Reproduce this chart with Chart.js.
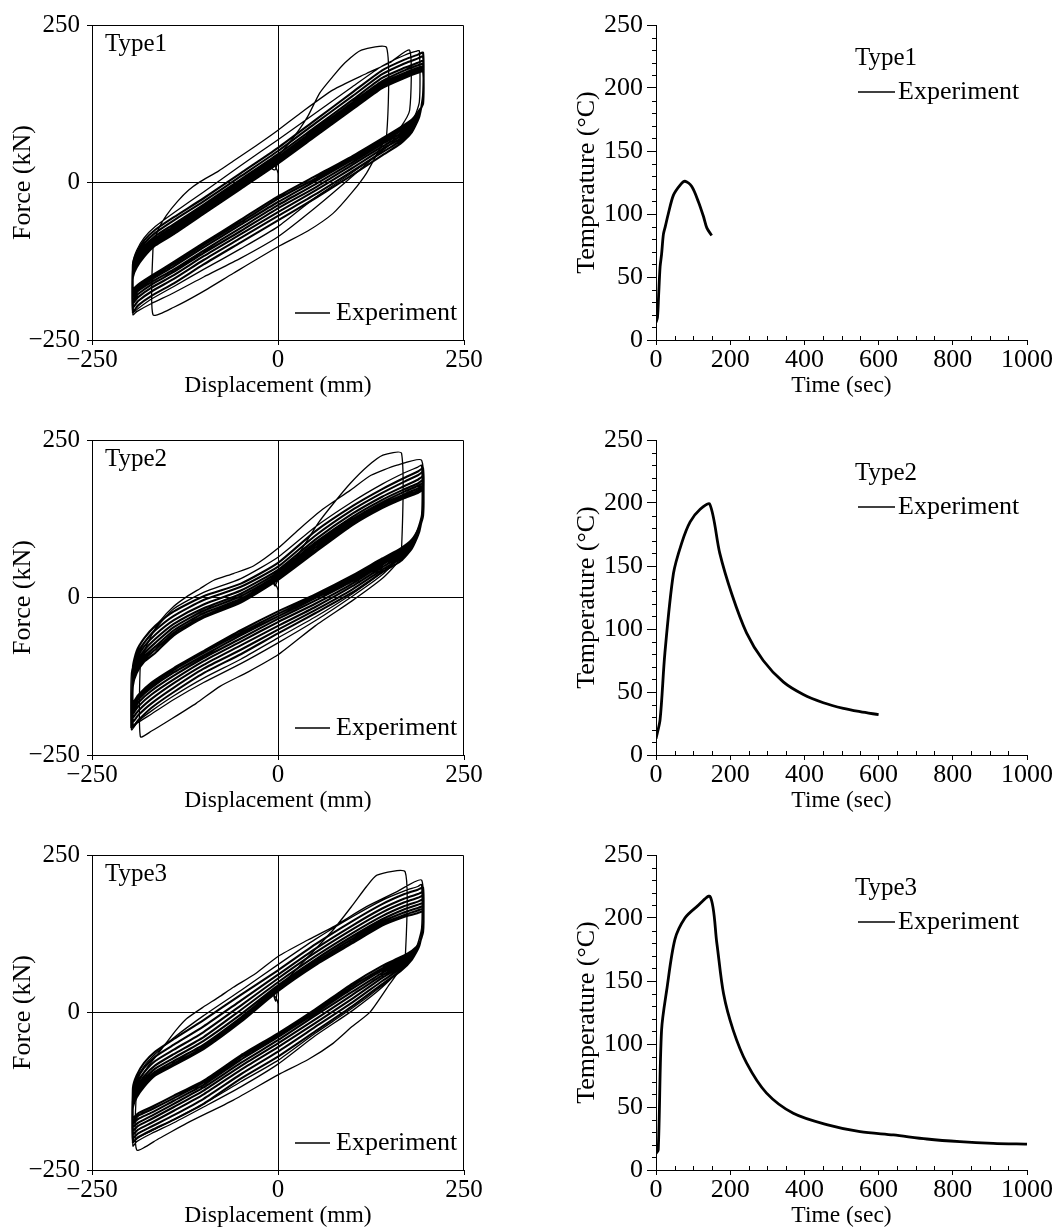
<!DOCTYPE html>
<html><head><meta charset="utf-8">
<script src="https://cdn.jsdelivr.net/npm/chart.js@4.4.1/dist/chart.umd.min.js"></script>
<style>
html,body{margin:0;padding:0;background:#fff;width:1057px;height:1230px;overflow:hidden;position:relative}
canvas{position:absolute}
</style></head><body>
<canvas id="h1" width="528" height="400" style="left:0;top:0"></canvas>
<canvas id="t1" width="529" height="400" style="left:528px;top:0"></canvas>
<canvas id="h2" width="528" height="400" style="left:0;top:415px"></canvas>
<canvas id="t2" width="529" height="400" style="left:528px;top:415px"></canvas>
<canvas id="h3" width="528" height="400" style="left:0;top:830px"></canvas>
<canvas id="t3" width="529" height="400" style="left:528px;top:830px"></canvas>
<script>
// ---------- tick values ----------
const FORCE_TICKS = [-250, 0, 250];
const DISP_TICKS = [-250, 0, 250];
const TEMP_TICKS = [0, 50, 100, 150, 200, 250];
const TIME_TICKS = [0, 200, 400, 600, 800, 1000];
const PANEL_LABELS = ['Type1', 'Type2', 'Type3'];

// ---------- temperature histories (sec, °C) ----------
const TIME1 = [0, 4, 7, 11, 15, 20, 25, 33, 47, 65, 78, 96, 114, 128, 137, 150];
const TEMP1 = [14, 18, 35, 58, 68, 84, 90, 100, 115, 123, 126, 122, 110, 98, 89, 83];
const TIME2 = [0, 11, 24, 47, 69, 92, 119, 145, 172, 204, 244, 289, 343, 397, 451, 505, 550, 600];
const TEMP2 = [13, 28, 81, 144, 168, 185, 195, 199, 160, 128, 97, 75, 58, 48, 41.5, 37, 34.4, 32];
const TIME3 = [0, 6, 15, 29, 51, 78, 110, 146, 164, 182, 208, 244, 298, 370, 460, 550, 640, 730, 819, 909, 1000];
const TEMP3 = [13, 16, 111, 143, 183, 200, 209, 217, 180, 140, 111, 85, 61, 45, 36, 30.4, 27.8, 24.6, 22.5, 21.2, 20.6];

// ---------- hysteresis: displacement stations of the stable cycles (mm) ----------
const UP_D = [-195, -190, -180, -165, -140, -100, -50, 0, 50, 100, 140, 170, 188, 195];
const LO_D = [195, 190, 180, 165, 140, 100, 50, 0, -50, -100, -140, -170, -188, -195];

// first (non-stable) cycles, traced as [displacement mm, force kN]
const TYPE1_FIRST = [[0,0],[0,15],[-3,24],[-6,28],[-8,22],[-4,20],[-1,30],[0,41],[20,70],[40,105],[56,142],[75,170],[90,190],[112,210],[146,214],[146,75],[135,50],[119,15],[100,-15],[74,-49],[40,-77],[0,-102],[-60,-144],[-105,-176],[-140,-198],[-168,-210],[-168,-104],[-165,-88],[-160,-72],[-150,-52],[-135,-30],[-120,-12],[-105,1],[-80,18],[-60,34],[-30,58],[0,83],[30,110],[74,147],[119,173],[150,190],[177,210],[177,115],[165,88],[140,52],[100,10],[50,-40],[0,-86],[-50,-120],[-100,-150],[-140,-175],[-170,-192],[-190,-205],[-195,-210],[-195,-128],[-190,-108],[-180,-88],[-165,-70],[-140,-48],[-100,-15],[-50,27],[0,68],[50,110],[100,152],[140,185],[170,202],[185,208],[190,209],[190,128],[180,95],[165,75],[140,50],[100,16],[50,-24],[0,-70],[-50,-105],[-100,-138],[-140,-165],[-170,-185],[-188,-200],[-195,-207]];
const TYPE1_UPPER = [
  [-130,-112,-92,-75,-55,-25,15,55,99,143,178,195,203,206],
  [-134,-117,-97,-80,-60,-30,10,50,94,137,172,189,197,200],
  [-138,-121,-102,-85,-66,-35,5,45,88,131,166,182,190,193],
  [-141,-124,-106,-89,-70,-39,1,41,84,127,161,178,186,188],
  [-144,-127,-109,-92,-74,-42,-2,38,81,124,158,174,182,184],
  [-146,-130,-112,-95,-77,-45,-5,35,78,121,155,171,179,181],
  [-148,-133,-116,-98,-80,-48,-8,32,75,118,152,168,176,178],
  [-150,-135,-118,-100,-82,-50,-10,30,73,116,150,166,174,176]
];
const TYPE1_LOWER = [
  [140,105,80,62,43,12,-25,-60,-95,-130,-160,-180,-195,-205],
  [138,106,83,66,48,18,-19,-53,-88,-123,-153,-173,-188,-198],
  [136,107,86,70,53,23,-13,-47,-82,-117,-147,-167,-182,-191],
  [134,109,89,74,57,28,-8,-41,-77,-112,-142,-162,-177,-186],
  [132,110,92,78,61,32,-3,-36,-72,-108,-138,-158,-172,-181],
  [130,112,95,82,64,36,2,-31,-67,-103,-133,-154,-168,-177],
  [127,113,98,85,67,39,6,-26,-63,-99,-129,-151,-165,-173],
  [125,115,100,88,70,42,10,-22,-59,-96,-126,-148,-162,-170]
];

const TYPE2_FIRST = [[0,0],[0,12],[-3,20],[-7,25],[-4,18],[0,28],[20,55],[54,118],[75,150],[97,181],[120,208],[141,226],[166,229],[166,75],[160,55],[140,30],[100,-5],[50,-45],[0,-91],[-40,-118],[-78,-141],[-110,-168],[-145,-194],[-170,-212],[-185,-221],[-185,-104],[-180,-86],[-170,-60],[-159,-38],[-140,-14],[-123,1],[-105,14],[-87,27],[-60,38],[-33,50],[0,78],[30,110],[60,140],[97,170],[125,194],[160,210],[193,218],[193,128],[185,100],[170,72],[140,36],[100,2],[50,-37],[0,-72],[-50,-105],[-100,-135],[-140,-162],[-170,-185],[-190,-200],[-197,-210],[-197,-120],[-190,-95],[-180,-72],[-165,-50],[-140,-18],[-100,8],[-50,30],[0,64],[50,112],[100,152],[140,180],[170,198],[188,207],[193,210],[193,132],[185,100],[170,70],[140,40],[100,6],[50,-31],[0,-64],[-50,-98],[-100,-128],[-140,-156],[-170,-180],[-190,-198],[-197,-207]];
const TYPE2_UPPER = [
  [-110,-85,-65,-45,-22,2,22,55,105,145,172,190,200,205],
  [-115,-91,-72,-52,-29,-4,17,49,98,139,166,184,194,199],
  [-120,-97,-78,-59,-36,-11,11,44,92,133,160,177,187,192],
  [-125,-103,-84,-66,-42,-17,6,40,87,128,155,172,181,186],
  [-129,-108,-89,-72,-47,-21,2,36,83,124,151,168,177,181],
  [-133,-112,-94,-78,-52,-25,-2,33,79,121,148,164,173,177],
  [-137,-116,-98,-83,-56,-29,-5,30,75,118,145,161,169,173],
  [-140,-120,-102,-88,-60,-32,-8,28,72,115,142,158,166,170]
];
const TYPE2_LOWER = [
  [140,105,78,58,40,8,-25,-57,-90,-120,-150,-175,-195,-205],
  [138,106,81,62,44,13,-20,-51,-83,-113,-143,-168,-187,-197],
  [136,107,84,66,48,18,-15,-45,-76,-107,-136,-161,-180,-190],
  [135,108,86,69,52,22,-10,-39,-70,-101,-130,-154,-173,-184],
  [134,109,88,72,55,26,-5,-34,-65,-96,-124,-148,-167,-179],
  [133,110,89,74,58,29,-1,-30,-60,-92,-119,-143,-162,-174],
  [131,111,91,76,60,32,2,-26,-56,-88,-115,-139,-158,-171],
  [130,112,92,78,62,35,5,-22,-52,-85,-112,-135,-155,-168]
];

const TYPE3_FIRST = [[0,0],[0,14],[-2,22],[-6,28],[-3,18],[0,36],[30,75],[74,131],[100,170],[119,200],[133,218],[171,223],[171,86],[165,70],[150,45],[124,1],[100,-22],[74,-49],[40,-75],[0,-99],[-60,-139],[-123,-176],[-160,-200],[-190,-218],[-190,-118],[-185,-105],[-175,-86],[-163,-68],[-150,-48],[-137,-28],[-123,-10],[-100,9],[-80,24],[-60,40],[-30,62],[0,89],[40,115],[74,136],[119,168],[160,192],[193,210],[193,131],[185,100],[170,76],[140,40],[100,3],[50,-37],[0,-82],[-50,-118],[-100,-150],[-140,-175],[-170,-192],[-190,-205],[-195,-212],[-195,-125],[-190,-105],[-180,-85],[-165,-66],[-140,-40],[-100,-5],[-50,35],[0,76],[50,116],[100,152],[140,178],[170,193],[188,200],[193,203],[193,134],[185,100],[170,74],[140,43],[100,7],[50,-33],[0,-76],[-50,-110],[-100,-145],[-140,-170],[-170,-188],[-190,-200],[-195,-207]];
const TYPE3_UPPER = [
  [-120,-100,-80,-62,-42,-12,28,67,108,145,172,188,195,198],
  [-126,-107,-88,-70,-51,-22,19,60,101,138,165,181,188,191],
  [-131,-113,-95,-77,-59,-31,11,54,95,132,159,175,182,185],
  [-136,-119,-101,-84,-66,-39,4,48,89,126,153,169,176,179],
  [-140,-123,-106,-89,-72,-45,-3,43,84,121,148,164,171,173],
  [-144,-128,-111,-94,-77,-51,-8,39,80,117,144,159,166,168],
  [-147,-132,-115,-97,-81,-55,-12,36,77,113,141,155,162,164],
  [-150,-135,-118,-100,-84,-58,-15,34,75,110,138,152,158,160]
];
const TYPE3_LOWER = [
  [140,106,84,66,45,10,-30,-70,-105,-145,-170,-187,-198,-205],
  [138,107,86,70,50,16,-23,-62,-98,-137,-163,-181,-192,-199],
  [136,107,88,73,55,22,-17,-55,-91,-130,-156,-175,-186,-193],
  [134,108,90,76,59,28,-11,-49,-85,-124,-150,-169,-180,-187],
  [133,108,92,79,63,33,-5,-44,-80,-119,-145,-164,-175,-181],
  [131,109,94,82,67,38,-1,-39,-75,-115,-140,-159,-169,-176],
  [130,109,96,85,70,42,2,-36,-71,-111,-136,-154,-164,-172],
  [128,110,98,88,74,46,5,-33,-68,-108,-132,-150,-160,-168]
];

// ---------- setup ----------
const SERIF = "'Liberation Serif', 'Times New Roman', serif";
Chart.defaults.font.family = SERIF;
Chart.defaults.color = '#000';

function minusFmt(v) { return v < 0 ? '\u2212' + Math.abs(v) : String(v); }

function firstPoints(first) { return first.map(p => ({ x: p[0], y: p[1] })); }
function stablePoints(first, upper, lower) {
  const last = first[first.length - 1];
  const pts = [{ x: last[0], y: last[1] }];
  for (let k = 0; k < upper.length; k++) {
    UP_D.forEach((d, i) => pts.push({ x: d, y: upper[k][i] }));
    LO_D.forEach((d, i) => pts.push({ x: d, y: lower[k][i] }));
  }
  return pts;
}

function annotPlugin(label, pos, frame, minor) {
  return {
    id: 'annot',
    afterDraw(chart) {
      const { ctx, chartArea: a, scales } = chart;
      ctx.save();
      ctx.strokeStyle = '#000';
      ctx.fillStyle = '#000';
      ctx.lineWidth = 1;
      if (frame) {
        ctx.beginPath();
        ctx.moveTo(Math.round(a.left) + 0.5, Math.round(a.top) + 0.5);
        ctx.lineTo(Math.round(a.right) - 0.5, Math.round(a.top) + 0.5);
        ctx.lineTo(Math.round(a.right) - 0.5, Math.round(a.bottom));
        ctx.stroke();
      }
      if (minor) {
        ctx.beginPath();
        for (let v = 10; v < 250; v += 10) {
          if (v % 50 === 0) continue;
          const py = Math.round(scales.y.getPixelForValue(v)) + 0.5;
          ctx.moveTo(a.left - 4, py); ctx.lineTo(a.left, py);
        }
        for (let v = 50; v < 1000; v += 50) {
          if (v % 200 === 0) continue;
          const px = Math.round(scales.x.getPixelForValue(v)) + 0.5;
          ctx.moveTo(px, a.bottom); ctx.lineTo(px, a.bottom - 4);
        }
        ctx.stroke();
      }
      ctx.textBaseline = 'middle';
      ctx.textAlign = 'left';
      ctx.font = '25px ' + SERIF;
      ctx.fillText(label, a.left + pos.lx, a.top + pos.ly);
      ctx.lineWidth = 1.6;
      ctx.beginPath();
      ctx.moveTo(a.left + pos.x1, a.top + pos.gy);
      ctx.lineTo(a.left + pos.x2, a.top + pos.gy);
      ctx.stroke();
      ctx.font = '26px ' + SERIF;
      ctx.fillText('Experiment', a.left + pos.tx, a.top + pos.gy);
      ctx.restore();
    }
  };
}

function hystChart(id, label, first, upper, lower) {
  new Chart(document.getElementById(id), {
    type: 'scatter',
    data: { datasets: [
      { data: firstPoints(first), showLine: true, borderColor: '#000', borderWidth: 1.3, pointRadius: 0, tension: 0.2, fill: false },
      { data: stablePoints(first, upper, lower), showLine: true, borderColor: '#000', borderWidth: 2.1, pointRadius: 0, tension: 0.2, fill: false, borderJoinStyle: 'round' }
    ] },
    options: {
      responsive: false, animation: false, events: [],
      layout: { padding: { left: 0, top: 25, right: 64, bottom: 0 } },
      plugins: { legend: { display: false }, tooltip: { enabled: false } },
      scales: {
        x: {
          type: 'linear', min: DISP_TICKS[0], max: DISP_TICKS[DISP_TICKS.length - 1],
          afterBuildTicks: s => { s.ticks = DISP_TICKS.map(v => ({ value: v })); },
          afterFit: s => { s.height = 60; },
          ticks: { callback: minusFmt, font: { size: 25 }, padding: 0, maxRotation: 0, color: '#000' },
          grid: { color: c => (c.tick && c.tick.value === 0) ? '#000' : 'rgba(0,0,0,0)', tickColor: '#000', tickLength: 5, lineWidth: 1 },
          border: { display: true, color: '#000', width: 1 },
          title: { display: true, text: 'Displacement (mm)', font: { size: 23.5 }, color: '#000', padding: { top: 0, bottom: 0 } }
        },
        y: {
          type: 'linear', min: FORCE_TICKS[0], max: FORCE_TICKS[FORCE_TICKS.length - 1],
          afterBuildTicks: s => { s.ticks = FORCE_TICKS.map(v => ({ value: v })); },
          afterFit: s => { s.width = 92; },
          ticks: { callback: minusFmt, font: { size: 25 }, padding: 7, color: '#000' },
          grid: { color: c => (c.tick && c.tick.value === 0) ? '#000' : 'rgba(0,0,0,0)', tickColor: '#000', tickLength: 5, lineWidth: 1 },
          border: { display: true, color: '#000', width: 1 },
          title: { display: true, text: 'Force (kN)', font: { size: 26 }, color: '#000', padding: { top: 8, bottom: 0 } }
        }
      }
    },
    plugins: [annotPlugin(label, { lx: 13, ly: 19, x1: 203, x2: 238, gy: 288, tx: 244 }, true, false)]
  });
}

function tempChart(id, label, time, temp) {
  new Chart(document.getElementById(id), {
    type: 'scatter',
    data: { datasets: [{ data: time.map((t, i) => ({ x: t, y: temp[i] })), showLine: true, borderColor: '#000', borderWidth: 2.8, pointRadius: 0, tension: 0.3, fill: false }] },
    options: {
      responsive: false, animation: false, events: [],
      layout: { padding: { left: 0, top: 25, right: 30, bottom: 0 } },
      plugins: { legend: { display: false }, tooltip: { enabled: false } },
      scales: {
        x: {
          type: 'linear', min: TIME_TICKS[0], max: TIME_TICKS[TIME_TICKS.length - 1],
          afterBuildTicks: s => { s.ticks = TIME_TICKS.map(v => ({ value: v })); },
          afterFit: s => { s.height = 60; },
          ticks: { callback: v => String(v), font: { size: 26 }, padding: 0, maxRotation: 0, color: '#000' },
          grid: { drawOnChartArea: false, color: '#000', tickLength: 5, lineWidth: 1 },
          border: { display: true, color: '#000', width: 1 },
          title: { display: true, text: 'Time (sec)', font: { size: 23.5 }, color: '#000', padding: { top: 0, bottom: 0 } }
        },
        y: {
          type: 'linear', min: TEMP_TICKS[0], max: TEMP_TICKS[TEMP_TICKS.length - 1],
          afterBuildTicks: s => { s.ticks = TEMP_TICKS.map(v => ({ value: v })); },
          afterFit: s => { s.width = 128; },
          ticks: { callback: v => String(v), font: { size: 26 }, padding: 4, color: '#000' },
          grid: { drawOnChartArea: false, color: '#000', tickLength: 9, lineWidth: 1 },
          border: { display: true, color: '#000', width: 1 },
          title: { display: true, text: 'Temperature (\u00B0C)', font: { size: 26 }, color: '#000', padding: { top: 44, bottom: 0 } }
        }
      }
    },
    plugins: [annotPlugin(label, { lx: 199, ly: 33, x1: 202, x2: 239, gy: 67, tx: 242 }, false, true)]
  });
}

hystChart('h1', PANEL_LABELS[0], TYPE1_FIRST, TYPE1_UPPER, TYPE1_LOWER);
hystChart('h2', PANEL_LABELS[1], TYPE2_FIRST, TYPE2_UPPER, TYPE2_LOWER);
hystChart('h3', PANEL_LABELS[2], TYPE3_FIRST, TYPE3_UPPER, TYPE3_LOWER);
tempChart('t1', PANEL_LABELS[0], TIME1, TEMP1);
tempChart('t2', PANEL_LABELS[1], TIME2, TEMP2);
tempChart('t3', PANEL_LABELS[2], TIME3, TEMP3);
</script>
</body></html>
